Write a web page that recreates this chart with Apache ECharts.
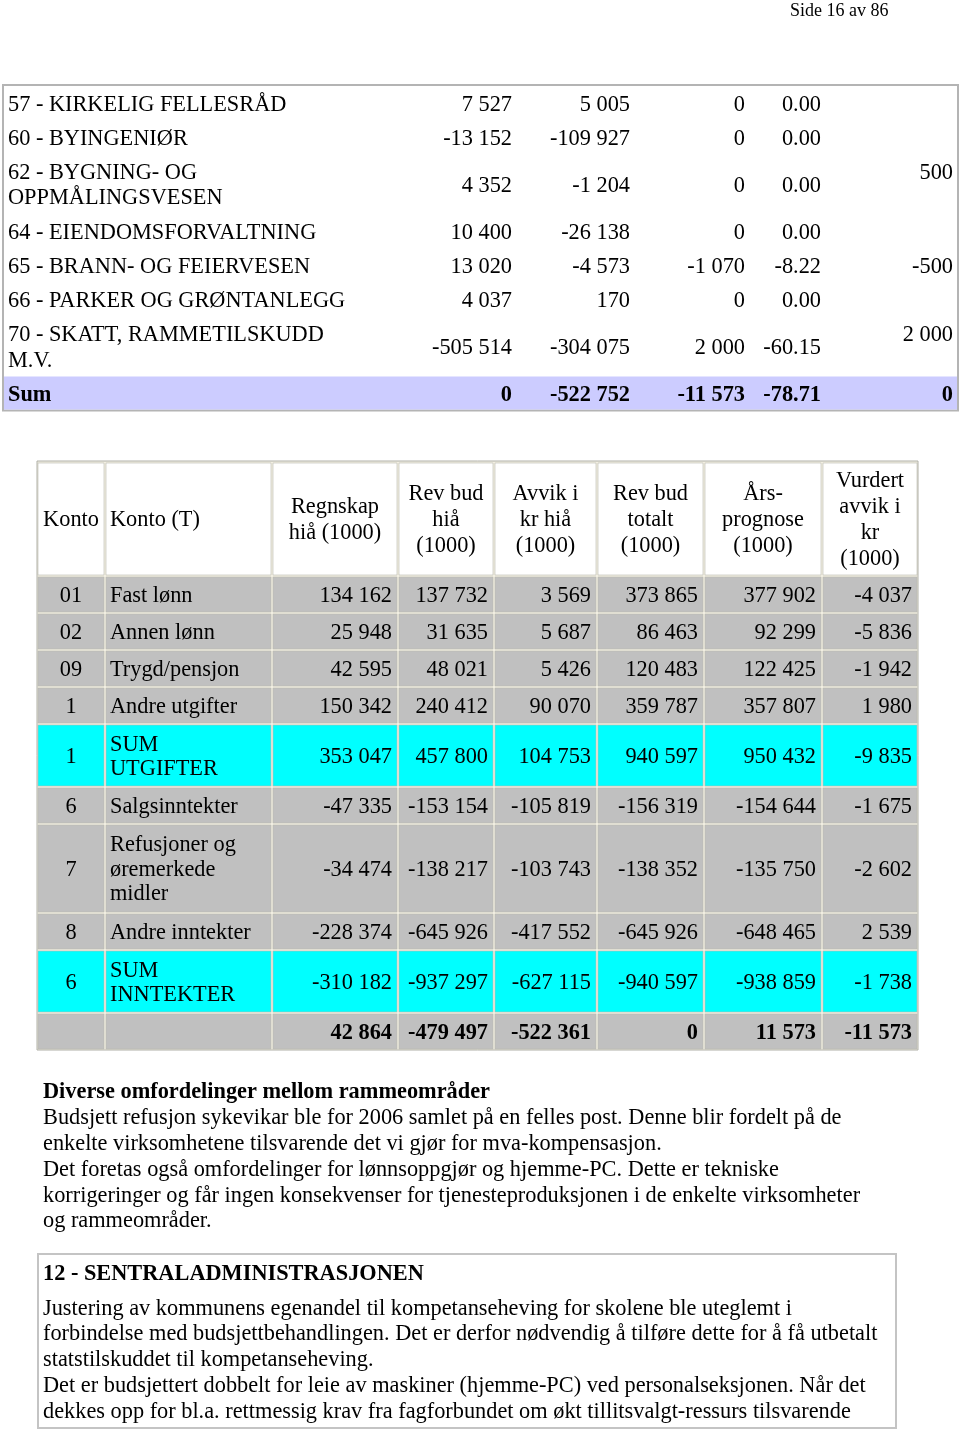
<!DOCTYPE html>
<html><head><meta charset="utf-8">
<script src="https://cdn.jsdelivr.net/npm/echarts@6/dist/echarts.min.js"></script>
<style>html,body{margin:0;padding:0;background:#fff}#c{width:960px;height:1430px}</style>
</head><body><div id="c"></div>
<script>
// ---------- Table 1 data ----------
const t1Names = ['57 - KIRKELIG FELLESRÅD','60 - BYINGENIØR','62 - BYGNING- OG\nOPPMÅLINGSVESEN','64 - EIENDOMSFORVALTNING','65 - BRANN- OG FEIERVESEN','66 - PARKER OG GRØNTANLEGG','70 - SKATT, RAMMETILSKUDD\nM.V.','Sum'];
const t1ColA = [7527,-13152,4352,10400,13020,4037,-505514,0];
const t1ColB = [5005,-109927,-1204,-26138,-4573,170,-304075,-522752];
const t1ColC = [0,0,0,0,-1070,0,2000,-11573];
const t1ColD = [0,0,0,0,-8.22,0,-60.15,-78.71];
const t1ColE = [null,null,500,null,-500,null,2000,0];

// ---------- Table 2 data ----------
const t2Headers = ['Konto','Konto (T)','Regnskap\nhiå (1000)','Rev bud\nhiå\n(1000)','Avvik i\nkr hiå\n(1000)','Rev bud\ntotalt\n(1000)','Års-\nprognose\n(1000)','Vurdert\navvik i\nkr\n(1000)'];
const t2Konto = ['01','02','09','1','1','6','7','8','6',''];
const t2Names = ['Fast lønn','Annen lønn','Trygd/pensjon','Andre utgifter','SUM\nUTGIFTER','Salgsinntekter','Refusjoner og\nøremerkede\nmidler','Andre inntekter','SUM\nINNTEKTER',''];
const t2Regnskap = [134162,25948,42595,150342,353047,-47335,-34474,-228374,-310182,42864];
const t2RevBudHia = [137732,31635,48021,240412,457800,-153154,-138217,-645926,-937297,-479497];
const t2AvvikHia = [3569,5687,5426,90070,104753,-105819,-103743,-417552,-627115,-522361];
const t2RevBudTotalt = [373865,86463,120483,359787,940597,-156319,-138352,-645926,-940597,0];
const t2Prognose = [377902,92299,122425,357807,950432,-154644,-135750,-648465,-938859,11573];
const t2Vurdert = [-4037,-5836,-1942,1980,-9835,-1675,-2602,2539,-1738,-11573];
const t2RowKind = ['row','row','row','row','sum','row','row','row','sum','total'];

// ---------- Text ----------
const pageHeader = 'Side 16 av 86';
const para1Title = 'Diverse omfordelinger mellom rammeområder';
const para1Lines = [
 'Budsjett refusjon sykevikar ble for 2006 samlet på en felles post. Denne blir fordelt på de',
 'enkelte virksomhetene tilsvarende det vi gjør for mva-kompensasjon.',
 'Det foretas også omfordelinger for lønnsoppgjør og hjemme-PC. Dette er tekniske',
 'korrigeringer og får ingen konsekvenser for tjenesteproduksjonen i de enkelte virksomheter',
 'og rammeområder.'
];
const para2Title = '12 - SENTRALADMINISTRASJONEN';
const para2Lines = [
 'Justering av kommunens egenandel til kompetanseheving for skolene ble uteglemt i',
 'forbindelse med budsjettbehandlingen. Det er derfor nødvendig å tilføre dette for å få utbetalt',
 'statstilskuddet til kompetanseheving.',
 'Det er budsjettert dobbelt for leie av maskiner (hjemme-PC) ved personalseksjonen. Når det',
 'dekkes opp for bl.a. rettmessig krav fra fagforbundet om økt tillitsvalgt-ressurs tilsvarende'
];

// ---------- helpers ----------
function fmt(n){ if(n===null||n===undefined) return ''; const s=Math.abs(n).toString().replace(/\B(?=(\d{3})+(?!\d))/g,' '); return (n<0?'-':'')+s; }
function fmtDec(n){ return n.toFixed(2); }
function lines(s){ return s.split('\n').length; }
const FONT = 'Liberation Serif';
const FS = 23.5, SX = 0.95, TY = 1.3;

// ---------- layout ----------
const L1 = {left:3, right:958, top:86, nameX:8, lineH:25.5, pad:8.7, valRight:[512,630,745,821], lastRight:953};
const t1Heights = t1Names.map(n => lines(n)*L1.lineH + L1.pad);
const t1Tops = []; { let y=L1.top; t1Heights.forEach(h=>{t1Tops.push(y); y+=h;}); }
const t1Bottom = t1Tops[t1Tops.length-1] + t1Heights[t1Heights.length-1];

const L2 = {cols:[37,105,272,398,494,597,704,822,918], top:462, lineH:26, pad:11, textPad:6};
const t2AllNames = [t2Headers.join('\n')].concat(t2Names); // row 0 = header
const t2Heights = [Math.max(...t2Headers.map(lines))*L2.lineH + 10].concat(t2Names.map(n => Math.max(1,lines(n))*L2.lineH + L2.pad));
const t2Tops = []; { let y=L2.top; t2Heights.forEach(h=>{t2Tops.push(y); y+=h;}); }
const t2Bottom = t2Tops[t2Tops.length-1] + t2Heights[t2Heights.length-1];

function txt(x,y,text,opt){
  opt = opt||{};
  return {type:'text', x:x, y:y+TY, scaleX:SX, style:{text:text, x:0, y:0, fill:'#000', fontFamily:FONT, fontSize:FS, fontWeight:opt.fontWeight||'normal', align:opt.align||'left', verticalAlign:'middle', lineHeight:opt.lineHeight||25.5}};
}

function renderFrames(params, api){
  const k = api.value(0);
  if(k===0){
    const a=api.coord([L1.left, L1.top-1]), b=api.coord([L1.right, t1Bottom]);
    return {type:'rect', shape:{x:a[0],y:a[1],width:b[0]-a[0],height:b[1]-a[1]}, style:{fill:'#fff', stroke:'#b4b4b4', lineWidth:2}};
  }
  if(k===1){
    const a=api.coord([L2.cols[0], L2.top-1]), b=api.coord([L2.cols[L2.cols.length-1], t2Bottom]);
    return {type:'rect', shape:{x:a[0],y:a[1],width:b[0]-a[0],height:b[1]-a[1]}, style:{fill:'#f1eee2', stroke:'#b0b0a8', lineWidth:1}};
  }
  const a=api.coord([38,1254]), b=api.coord([896,1428]);
  return {type:'rect', shape:{x:a[0],y:a[1],width:b[0]-a[0],height:b[1]-a[1]}, style:{fill:'none', stroke:'#c4c4c4', lineWidth:2}};
}

function renderT1(params, api){
  const i = api.value(0);
  const last = i === t1Names.length-1;
  const a = api.coord([L1.left, t1Tops[i]]), b = api.coord([L1.right, t1Tops[i]+t1Heights[i]]);
  const cy = (a[1]+b[1])/2;
  const ch = [];
  if(last) ch.push({type:'rect', shape:{x:a[0]+1, y:a[1], width:b[0]-a[0]-2, height:b[1]-a[1]-1}, style:{fill:'#ccccff'}});
  const w = last ? 'bold' : 'normal';
  ch.push(txt(api.coord([L1.nameX,0])[0], cy, t1Names[i], {fontWeight:w}));
  const vals = [fmt(t1ColA[i]), fmt(t1ColB[i]), fmt(t1ColC[i]), fmtDec(t1ColD[i])];
  vals.forEach((v,j)=>{ ch.push(txt(api.coord([L1.valRight[j],0])[0], cy, v, {align:'right', fontWeight:w})); });
  if(t1ColE[i]!==null){
    const ty = api.coord([0, t1Tops[i] + L1.pad/2 + L1.lineH/2])[1];
    ch.push(txt(api.coord([L1.lastRight,0])[0], ty, fmt(t1ColE[i]), {align:'right', fontWeight:w}));
  }
  return {type:'group', children:ch};
}

function renderT2(params, api){
  const r = api.value(0); // 0 = header
  const a0 = api.coord([0, t2Tops[r]]), b0 = api.coord([0, t2Tops[r]+t2Heights[r]]);
  const cy = (a0[1]+b0[1])/2;
  const kind = r===0 ? 'header' : t2RowKind[r-1];
  const bg = kind==='header' ? '#ffffff' : (kind==='sum' ? '#00ffff' : '#c0c0c0');
  const w = kind==='total' ? 'bold' : 'normal';
  const ch = [];
  const cols = L2.cols;
  for(let c=0;c<cols.length-1;c++){
    const xa = api.coord([cols[c],0])[0], xb = api.coord([cols[c+1],0])[0];
    ch.push({type:'rect', shape:{x:xa+1, y:a0[1]+1, width:xb-xa-2, height:b0[1]-a0[1]-2}, style:{fill:bg, stroke:'#b9b9b0', lineWidth:0.6}});
    let text, opt;
    if(r===0){
      text = t2Headers[c];
      if(c===1) opt={align:'left', x:xa+L2.textPad-1};
      else opt={align:'center', x:(xa+xb)/2};
      opt.lineHeight = L2.lineH;
    } else {
      const i=r-1;
      const cells=[t2Konto[i], t2Names[i], fmt(t2Regnskap[i]), fmt(t2RevBudHia[i]), fmt(t2AvvikHia[i]), fmt(t2RevBudTotalt[i]), fmt(t2Prognose[i]), fmt(t2Vurdert[i])];
      text = cells[c];
      if(c===0) opt={align:'center', x:(xa+xb)/2};
      else if(c===1) opt={align:'left', x:xa+L2.textPad-1};
      else opt={align:'right', x:xb-L2.textPad, fontWeight:w};
      opt.lineHeight = 24.5;
    }
    ch.push(txt(opt.x, cy, text, opt));
  }
  return {type:'group', children:ch};
}

const graphic = [];
function gtext(x,y,s,bold,size,sx){
  graphic.push({type:'text', z:100, x:x, y:y+TY, scaleX:sx, style:{text:s, fill:'#000', font:(bold?'bold ':'')+size+'px "'+FONT+'"', verticalAlign:'middle'}});
}
gtext(790, 10, pageHeader, false, 18, 1.0);
gtext(43, 1091, para1Title, true, FS, SX);
const p1Y=[1117,1143,1169,1195,1220];
para1Lines.forEach((s,i)=>gtext(43, p1Y[i], s, false, FS, SX));
gtext(43, 1273, para2Title, true, FS, SX);
const p2Y=[1308,1333,1359,1385,1411];
para2Lines.forEach((s,i)=>gtext(43, p2Y[i], s, false, FS, SX));

const chart = echarts.init(document.getElementById('c'));
chart.setOption({
  animation:false,
  backgroundColor:'#fff',
  grid:{left:0, right:0, top:0, bottom:0},
  xAxis:{type:'value', min:0, max:960, show:false},
  yAxis:{type:'value', min:0, max:1430, inverse:true, show:false},
  graphic: graphic,
  series:[
    {type:'custom', name:'frames', clip:false, data:[[0,0],[1,0],[2,0]], renderItem:renderFrames, silent:true},
    {type:'custom', name:'table1', clip:false, data:t1Names.map((n,i)=>[i,t1Tops[i]]), renderItem:renderT1, silent:true},
    {type:'custom', name:'table2', clip:false, data:t2AllNames.map((n,i)=>[i,t2Tops[i]]), renderItem:renderT2, silent:true}
  ]
});
</script></body></html>
